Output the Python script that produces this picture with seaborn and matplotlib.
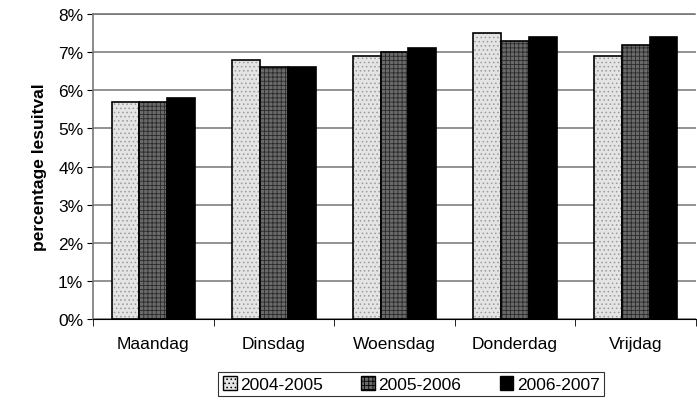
import pandas as pd
import seaborn as sns
import matplotlib.pyplot as plt
from matplotlib.ticker import PercentFormatter, FixedLocator
from matplotlib.patches import Patch

# data
dagen = ['Maandag', 'Dinsdag', 'Woensdag', 'Donderdag', 'Vrijdag']
jaren = ['2004-2005', '2005-2006', '2006-2007']
v_2004 = [5.7, 6.8, 6.9, 7.5, 6.9]
v_2005 = [5.7, 6.6, 7.0, 7.3, 7.2]
v_2006 = [5.8, 6.6, 7.1, 7.4, 7.4]

df = pd.DataFrame({
    'dag': dagen * 3,
    'jaar': [jaren[0]] * 5 + [jaren[1]] * 5 + [jaren[2]] * 5,
    'pct': v_2004 + v_2005 + v_2006,
})

sns.set_style('white')
plt.rcParams['font.family'] = ['Liberation Sans', 'DejaVu Sans']
plt.rcParams['hatch.linewidth'] = 0.6
plt.rcParams['text.color'] = 'black'
plt.rcParams['axes.labelcolor'] = 'black'
plt.rcParams['xtick.color'] = 'black'
plt.rcParams['ytick.color'] = 'black'

kleuren = ['#e4e4e4', '#6a6a6a', '#000000']
hatches = ['....', '++++', '']
hatch_kleur = ['#9a9a9a', '#2a2a2a', '#000000']

fig = plt.figure(figsize=(6.97, 4.06), dpi=100)
ax = fig.add_axes([93 / 697, 86 / 406, 603 / 697, 305 / 406])

sns.barplot(data=df, x='dag', y='pct', hue='jaar', palette=kleuren,
            width=0.69, gap=0, edgecolor='black', linewidth=1.2,
            legend=False, ax=ax)

for i, cont in enumerate(ax.containers):
    for b in cont:
        b.set_hatch(hatches[i])
        b._hatch_color = plt.matplotlib.colors.to_rgba(hatch_kleur[i])

ax.set_ylim(0, 8)
ax.set_xlim(-0.5, 4.5)
ax.yaxis.set_major_formatter(PercentFormatter(decimals=0))
ax.set_yticks(range(0, 9))
ax.yaxis.grid(True, color='#808080', linewidth=1.2)
ax.set_axisbelow(True)
ax.tick_params(axis='y', labelsize=12.5, length=4, direction='out', left=True, pad=3)
ax.tick_params(axis='x', labelsize=12.5, length=0, pad=12)
ax.xaxis.set_minor_locator(FixedLocator([-0.5, 0.5, 1.5, 2.5, 3.5, 4.5]))
ax.tick_params(axis='x', which='minor', length=5, bottom=True, color='black')
ax.set_xlabel('')
ax.set_ylabel('percentage lesuitval', fontsize=12.5, fontweight='bold', labelpad=8)

for s in ['top', 'left']:
    ax.spines[s].set_color('#777777')
    ax.spines[s].set_linestyle((0, (1, 1)))
    ax.spines[s].set_linewidth(1.2)
ax.spines['bottom'].set_color('black')
ax.spines['right'].set_visible(False)

handles = [Patch(facecolor=kleuren[i], edgecolor='black', hatch=hatches[i], label=jaren[i])
           for i in range(3)]
leg = fig.legend(handles=handles, loc='lower center', bbox_to_anchor=(0.59, 0.0),
                 ncol=3, fontsize=12.5, frameon=True, fancybox=False, edgecolor='black',
                 handlelength=0.8, handleheight=0.8, handletextpad=0.2, columnspacing=2.2,
                 borderpad=0.25)
leg.get_frame().set_linewidth(0.8)

plt.savefig('out.png', dpi=100)
